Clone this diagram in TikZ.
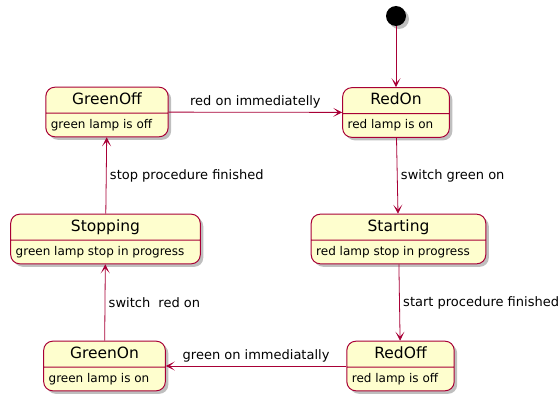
\documentclass[tikz,border=0pt]{standalone}
\usepackage{fontspec}
\setmainfont{DejaVu Sans}
\usetikzlibrary{arrows.meta,shapes.multipart,shadows}
\definecolor{umlred}{HTML}{A80036}
\definecolor{umlfill}{HTML}{FEFECE}
\tikzset{
  softshadow/.style={drop shadow={shadow xshift=3pt,shadow yshift=-3pt,fill=black,opacity=0.25}},
  statebox/.style={rectangle split, rectangle split parts=2,
    rectangle split part align={center,left},
    draw=umlred, fill=umlfill, line width=1pt, rounded corners=9pt,
    inner xsep=5pt, inner ysep=5.5pt, text height=11pt, text depth=3pt,
    font=\fontsize{15.5}{17}\selectfont, softshadow},
  trans/.style={draw=umlred, line width=0.8pt, -{Stealth[length=9pt,width=9pt,inset=5pt]}},
  translabel/.style={font=\fontsize{13}{15}\selectfont, text=black}
}
\newcommand{\descr}[1]{\nodepart{two}\fontsize{12}{14}\selectfont #1\hspace*{11pt}}
\begin{document}
\begin{tikzpicture}[x=1pt,y=-1pt]
  \useasboundingbox (0,0) rectangle (560,404);
  % start point
  \node[circle, fill=black, minimum size=20pt, inner sep=0pt, softshadow] (init) at (396,16) {};
  % states
  \node[statebox] (redon) at (396,112.5) {RedOn \descr{red lamp is on}};
  \node[statebox] (greenoff) at (107,112) {GreenOff \descr{green lamp is off}};
  \node[statebox] (stopping) at (105.5,239) {Stopping \descr{green lamp stop in progress}};
  \node[statebox] (starting) at (398.5,239) {Starting \descr{red lamp stop in progress}};
  \node[statebox] (greenon) at (104.5,366) {GreenOn \descr{green lamp is on}};
  \node[statebox] (redoff) at (400.5,366) {RedOff \descr{red lamp is off}};
  % transitions
  \draw[trans] (init) -- (redon);
  \draw[trans] (redon) -- node[midway, right, translabel] {switch green on} (starting);
  \draw[trans] (starting) -- node[midway, right, translabel] {start procedure finished} (redoff);
  \draw[trans] (redoff) -- node[midway, above, translabel] {green on immediatally} (greenon);
  \draw[trans] (greenon) -- node[midway, right, translabel] {switch\ \ red on} (stopping);
  \draw[trans] (stopping) -- node[midway, right, translabel] {stop procedure finished} (greenoff);
  \draw[trans] (greenoff) -- node[midway, above, translabel] {red on immediatelly} (redon);
\end{tikzpicture}
\end{document}
